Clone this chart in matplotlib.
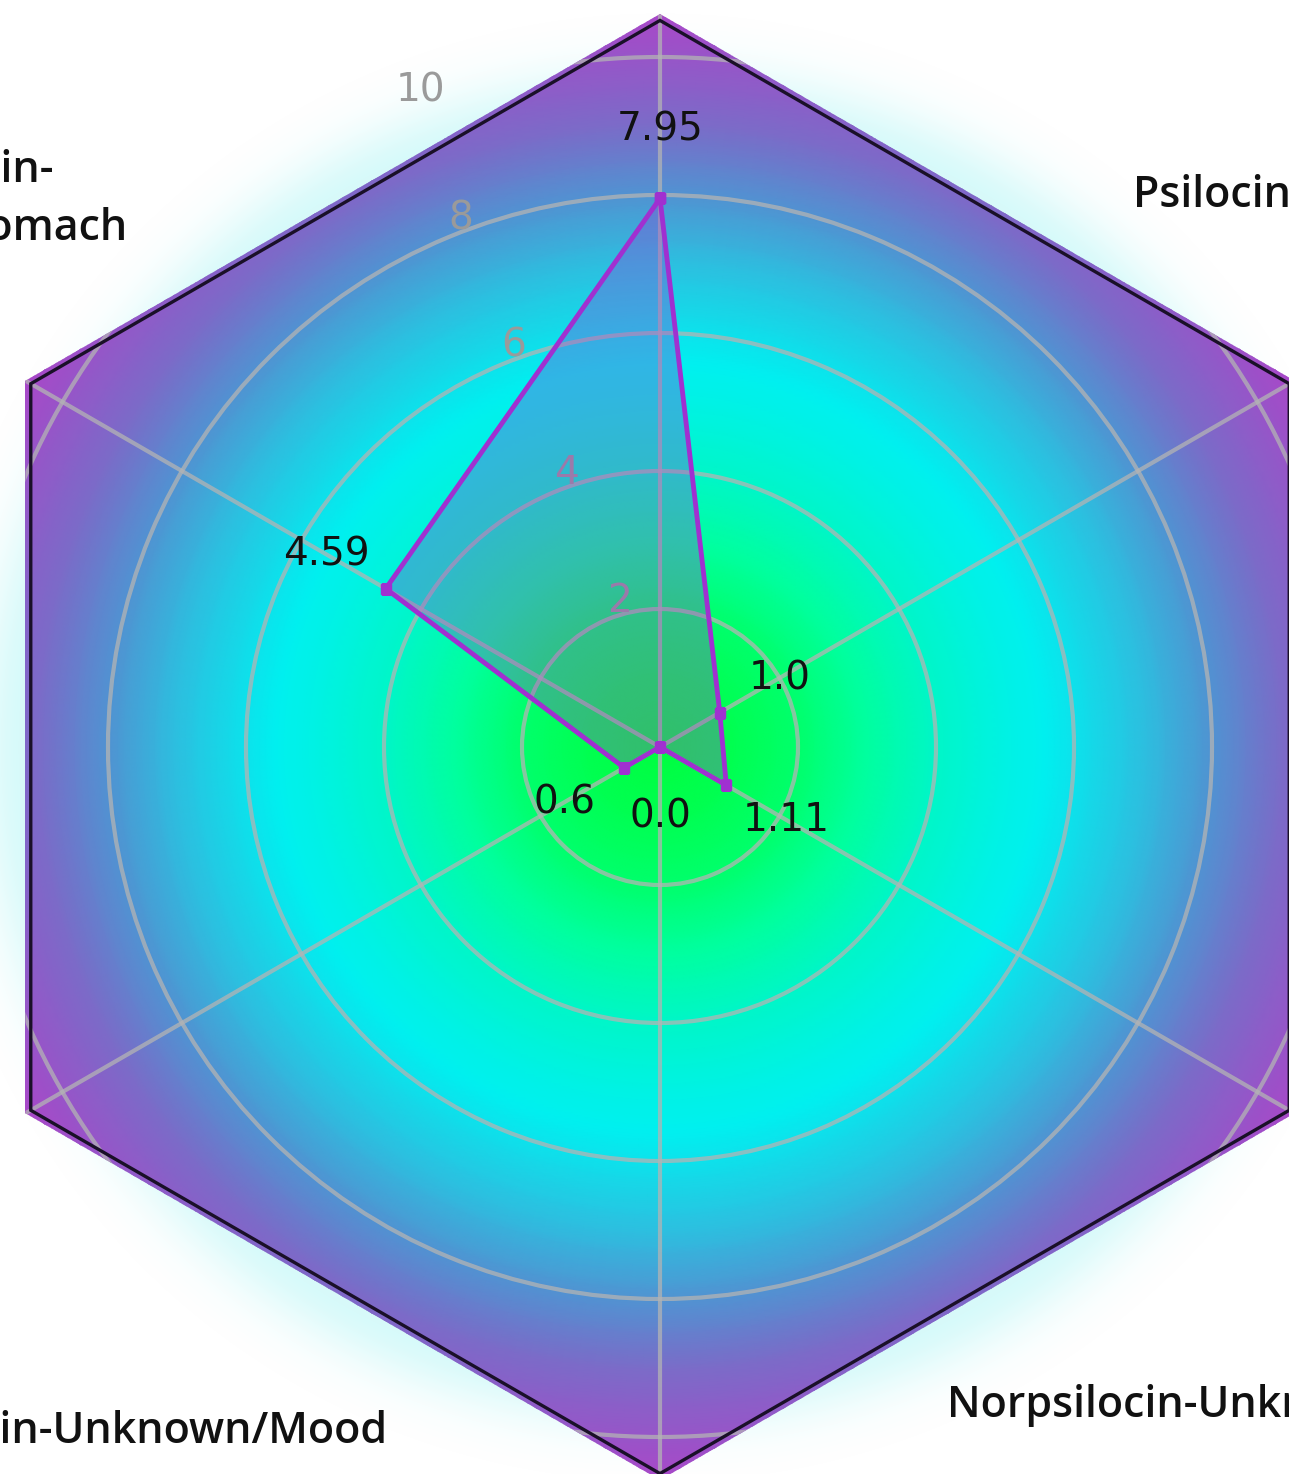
"""Radar hexagonal (6 eixos) com fundo em gradiente radial verde -> ciano -> roxo,
brilho ciano em volta do hexágono e rótulos das categorias cortados pela borda.
Saída: out.png (1289x1474)
"""
import numpy as np
import matplotlib; matplotlib.use("Agg")
import matplotlib.pyplot as plt
from matplotlib.patches import RegularPolygon
from matplotlib.colors import LinearSegmentedColormap

# dados (ordem anti-horária a partir do topo)
categorias = ["Psilocybin-Brain", "Norpsilocin-\nUnknown/Stomach", "Psilocybin-Unknown/Mood",
              "Baeocystin-Unknown", "Norpsilocin-Unknown/Nausea", "Psilocin-Unknown"]
valores = [7.95, 4.59, 0.6, 0.0, 1.11, 1.0]
r_ticks = [2, 4, 6, 8, 10]
r_tick_labels = ["2", "4", "6", "8", "10"]

W, H, DPI = 1289, 1474, 100
CX, CY = 660, 747      # centro do radar em px (y a partir do topo)
PX_UNIT = 69.0         # px por unidade radial
RMAX = 10.64
R_HEX = 10.53          # contorno preto
R_CLIP = 10.62         # recorte do gradiente

# posição dos rótulos (px) -- topo e base ficam fora do recorte da figura
LABEL_POS = {1: (127, 240, "right"), 2: (387, 1443, "right"),
             4: (947, 1417, "left"), 5: (1133, 207, "left")}

fig = plt.figure(figsize=(W / DPI, H / DPI), dpi=DPI)

# brilho ciano suave em volta do hexágono
bg = fig.add_axes([0, 0, 1, 1])
bg.set_xlim(0, W); bg.set_ylim(H, 0); bg.axis("off")
yy, xx = np.mgrid[0:H, 0:W]
d = np.hypot(xx - CX, yy - CY)
alpha = 0.2 * np.exp(-np.clip(d - 635, 0, None) ** 2 / 50 ** 2)
glow = np.zeros((H, W, 4))
glow[..., 0] = 0.2; glow[..., 1] = 0.9; glow[..., 2] = 0.9; glow[..., 3] = alpha
bg.imshow(glow, extent=(0, W, H, 0), aspect="auto", interpolation="bilinear")

size = 2 * RMAX * PX_UNIT
ax = fig.add_axes([(CX - size / 2) / W, (H - CY - size / 2) / H, size / W, size / H],
                  projection="polar")
ax.set_theta_offset(np.pi / 2)
ax.set_ylim(0, RMAX)
ax.patch.set_alpha(0)
ax.spines["polar"].set_visible(False)

clip = RegularPolygon((0.5, 0.5), 6, radius=0.5 * R_CLIP / RMAX, transform=ax.transAxes,
                      facecolor="none", edgecolor="none")
ax.add_patch(clip)

# gradiente radial
cmap = LinearSegmentedColormap.from_list("radar", [
    (0.0, "#00ff40"), (1 / 10.6, "#00ff50"), (2 / 10.6, "#00ff6c"), (3 / 10.6, "#00ffa0"),
    (4 / 10.6, "#00f6c8"), (5 / 10.6, "#00f2e4"), (5.6 / 10.6, "#00f0f0"), (7 / 10.6, "#2cc0e0"),
    (8 / 10.6, "#5094d2"), (9 / 10.6, "#7a6cc8"), (1.0, "#a848c8")])
th = np.linspace(0, 2 * np.pi, 241)
rr = np.linspace(0, RMAX, 120)
T, Rg = np.meshgrid(th, rr)
mesh = ax.pcolormesh(T, Rg, Rg, cmap=cmap, vmin=0, vmax=10.6, shading="gouraud", zorder=0)
mesh.set_clip_path(clip)

# grade
ang = np.deg2rad(np.arange(0, 360, 360 / len(valores)))
ax.set_xticks(ang); ax.set_xticklabels([])
ax.set_yticks(r_ticks)
ax.set_yticklabels(r_tick_labels, color="#9a9a9a", fontsize=28)
ax.grid(True, color="#b4b4b4", lw=3.0, alpha=0.75)
ax.xaxis.set_clip_path(clip)
ax.yaxis.set_clip_path(clip)
ax.tick_params(axis="x", length=0)

ax.add_patch(RegularPolygon((0.5, 0.5), 6, radius=0.5 * R_HEX / RMAX, transform=ax.transAxes,
                            fill=False, edgecolor="#1a1028", lw=2.4, zorder=5, clip_on=False))

# série
a_c = np.append(ang, ang[0]); v_c = np.append(valores, valores[0])
ax.fill(a_c, v_c, color="#a030d0", alpha=0.3, zorder=2)
ax.plot(a_c, v_c, color="#a030d0", lw=3.5, marker="s", ms=7, zorder=3)
for a, v in zip(ang, valores):
    ax.text(a, v + 1, f"{v}", ha="center", va="center", fontsize=28, color="#111111", zorder=6)

# rótulos das categorias
for i, (x, y, ha) in LABEL_POS.items():
    fig.text(x / W, 1 - y / H, categorias[i], ha=ha, va="baseline", multialignment="center",
             fontsize=31, family=["Open Sans", "DejaVu Sans"], weight="semibold",
             color="#111111", linespacing=1.45)

fig.savefig("out.png", dpi=DPI)
